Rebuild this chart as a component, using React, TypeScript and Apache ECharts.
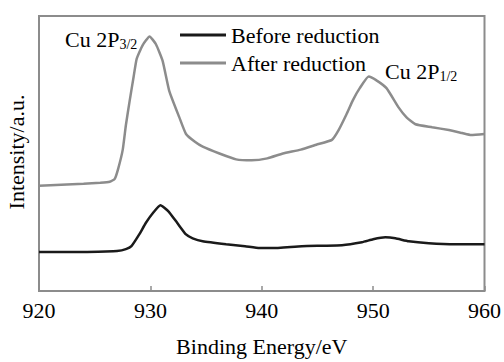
import React, { useEffect, useRef } from "react";
import * as echarts from "echarts";

const energyAfter = [920, 922, 924, 925.5, 926.35, 926.8, 927.1, 927.52, 927.8, 928.14, 928.5, 928.77, 929.3, 929.93, 930.5, 931.1, 931.7, 932.6, 933.2, 934, 934.7, 936.2, 937.7, 939.1, 940.5, 941.9, 943.5, 944.9, 946.3, 946.9, 947.6, 948.2, 948.8, 949.6, 950.3, 951.2, 952.3, 953, 953.8, 955.3, 956.8, 958, 958.8, 960];
const intensityAfter = [108, 109, 110, 111, 112, 115, 125, 145, 170, 195, 220, 238, 252, 261, 253, 236, 205, 178, 161, 153, 148, 141, 135, 134, 136, 141, 145, 150, 155, 165, 181, 196, 208, 220, 216, 208, 188, 178, 171, 168, 165, 162, 160, 161];

const energyBefore = [920, 922, 924, 926, 927, 927.8, 928.3, 929, 929.6, 930.3, 930.9, 931.6, 932.4, 933.2, 933.8, 934.7, 936.8, 938.5, 939.8, 940.9, 943.6, 947.2, 949, 950, 951.1, 952, 953.2, 955, 957.4, 960];
const intensityBefore = [40, 40, 40, 40.5, 41, 43, 46, 58, 70, 81, 88, 82, 70, 58, 54, 51, 48, 46, 44, 44, 46, 47, 50, 53, 55, 54, 51, 49, 48, 48];

const seriesNames = ["Before reduction", "After reduction"];
const xTicks = { min: 920, max: 960, interval: 10 };

const FONT = "'Liberation Serif', 'Times New Roman', serif";

const subRich = {
  a: { fontFamily: FONT, fontSize: 22, fill: "#000", lineHeight: 24 },
  b: { fontFamily: FONT, fontSize: 14, fill: "#000", verticalAlign: "bottom", lineHeight: 14 },
};

export default function App() {
  const ref = useRef<HTMLDivElement>(null);
  useEffect(() => {
    if (!ref.current) return;
    const chart = echarts.init(ref.current, undefined, { renderer: "svg" });
    chart.setOption({
      animation: false,
      backgroundColor: "#ffffff",
      grid: { left: 39, right: 18, top: 16, bottom: 64, show: true, borderColor: "#8c8c8c", borderWidth: 2 },
      legend: {
        orient: "vertical",
        left: 175,
        top: 18,
        icon: "rect",
        itemWidth: 46,
        itemHeight: 3,
        itemGap: 4,
        textStyle: { fontFamily: FONT, fontSize: 22, color: "#000", lineHeight: 24 },
        data: seriesNames,
      },
      xAxis: {
        type: "value",
        min: xTicks.min,
        max: xTicks.max,
        interval: xTicks.interval,
        axisLine: { show: false },
        axisTick: { show: true, inside: true, length: 5, lineStyle: { color: "#8c8c8c", width: 1.5 } },
        splitLine: { show: false },
        axisLabel: { fontFamily: FONT, fontSize: 22, color: "#000", margin: 8 },
        name: "Binding Energy/eV",
        nameLocation: "middle",
        nameGap: 44,
        nameTextStyle: { fontFamily: FONT, fontSize: 22, color: "#000" },
      },
      yAxis: {
        type: "value",
        min: 0,
        max: 282,
        axisLine: { show: false },
        axisTick: { show: false },
        axisLabel: { show: false },
        splitLine: { show: false },
      },
      graphic: [
        {
          type: "text",
          x: 16,
          y: 152,
          rotation: Math.PI / 2,
          style: { text: "Intensity/a.u.", fontFamily: FONT, fontSize: 22, fill: "#000", align: "center", verticalAlign: "middle" },
        },
        {
          type: "text",
          x: 65,
          y: 39,
          style: { text: "{a|Cu 2P}{b|3/2}", verticalAlign: "middle", rich: subRich },
        },
        {
          type: "text",
          x: 385,
          y: 71,
          style: { text: "{a|Cu 2P}{b|1/2}", verticalAlign: "middle", rich: subRich },
        },
      ],
      series: [
        {
          name: seriesNames[0],
          type: "line",
          symbol: "none",
          smooth: 0.15,
          data: energyBefore.map((e, i) => [e, intensityBefore[i]]),
          lineStyle: { color: "#1a1a1a", width: 2.5 },
          itemStyle: { color: "#1a1a1a" },
        },
        {
          name: seriesNames[1],
          type: "line",
          symbol: "none",
          smooth: 0.15,
          data: energyAfter.map((e, i) => [e, intensityAfter[i]]),
          lineStyle: { color: "#8c8c8c", width: 2.5 },
          itemStyle: { color: "#8c8c8c" },
        },
      ],
    });
    return () => chart.dispose();
  }, []);
  return <div ref={ref} style={{ position: "fixed", left: 0, top: 0, width: 504, height: 362 }} />;
}
